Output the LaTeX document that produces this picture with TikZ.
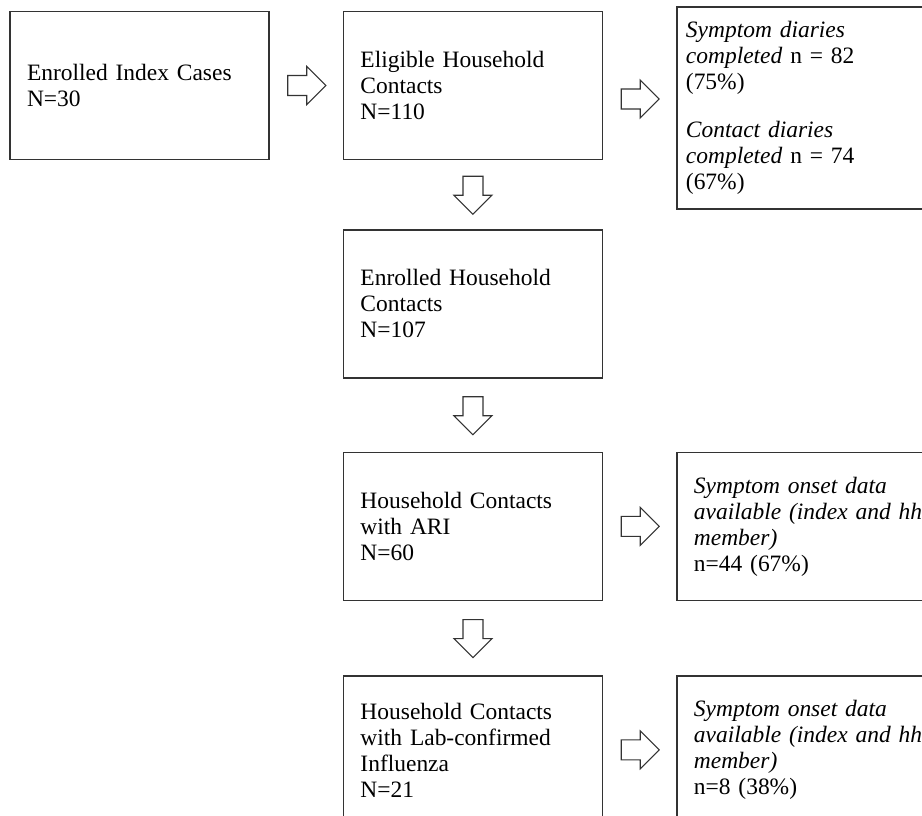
\documentclass[tikz,border=0pt]{standalone}
\usepackage{fontspec}
\setmainfont{Liberation Serif}
\usetikzlibrary{shapes, arrows, positioning, calc}
\tikzstyle{stage} = [
    rectangle,
    draw=black!80,
    line width=1.1pt,
    minimum width=194.25pt,
    minimum height=111pt,
    text width=168.75pt,
    inner xsep=12.75pt,
    align=left,
    font=\fontsize{17.6pt}{19.5pt}\selectfont
]
\tikzstyle{outcome} = [
    stage,
    text width=187.5pt
]
\tikzstyle{diarybox} = [
    stage,
    minimum height=151.5pt,
    text width=180.75pt,
    inner xsep=6.75pt
]
\tikzstyle{rarrow} = [
    single arrow,
    draw=black!80,
    line width=0.8pt,
    minimum height=28.5pt,
    single arrow head extend=6.75pt,
    inner xsep=0pt,
    inner ysep=7.1pt,
    anchor=tail,
    xshift=-14.25pt
]
\tikzstyle{darrow} = [
    rarrow,
    shape border rotate=270,
    inner xsep=7.1pt,
    inner ysep=0pt,
    xshift=14.25pt,
    yshift=14.25pt
]

\begin{document}
\begin{tikzpicture}[x=0.75pt, y=-0.75pt, node distance=54.75pt]
    \useasboundingbox[fill=white] (0,0) rectangle (922,816);

    \node[stage] (indexcases) at (139.5,85.5) {Enrolled Index Cases\\N=30};
    \node[stage, right=of indexcases] (eligible) {Eligible Household\\Contacts\\N=110};
    \node[diarybox, right=of eligible, yshift=-16.9pt] (diaries)
        {\textit{Symptom diaries}\\\textit{completed} n = 82\\(75\%)\\[16.5pt]
         \textit{Contact diaries}\\\textit{completed} n = 74\\(67\%)};
    \node[stage, below=51.75pt of eligible] (enrolledhh) {Enrolled Household\\Contacts\\N=107};
    \node[stage, below=of enrolledhh] (ari) {Household Contacts\\with ARI\\N=60};
    \node[outcome, right=of ari] (onsetari)
        {\textit{Symptom onset data}\\\textit{available (index and hh}\\\textit{member)}\\n=44 (67\%)};
    \node[stage, below=55.5pt of ari] (flu) {Household Contacts\\with Lab-confirmed\\Influenza\\N=21};
    \node[outcome, right=of flu] (onsetflu)
        {\textit{Symptom onset data}\\\textit{available (index and hh}\\\textit{member)}\\n=8 (38\%)};

    % block arrows between the boxes
    \node[rarrow] (a1) at ($(indexcases.east)!0.5!(eligible.west)$) {};
    \node[rarrow] (a2) at ($(eligible.east)!0.5!(eligible.east -| diaries.west) + (0,13.5)$) {};
    \node[rarrow] (a3) at ($(ari.east)!0.5!(onsetari.west)$) {};
    \node[rarrow] (a4) at ($(flu.east)!0.5!(onsetflu.west)$) {};
    \node[darrow] (d1) at ($(eligible.south)!0.5!(enrolledhh.north)$) {};
    \node[darrow] (d2) at ($(enrolledhh.south)!0.5!(ari.north)$) {};
    \node[darrow] (d3) at ($(ari.south)!0.5!(flu.north)$) {};
\end{tikzpicture}
\end{document}
